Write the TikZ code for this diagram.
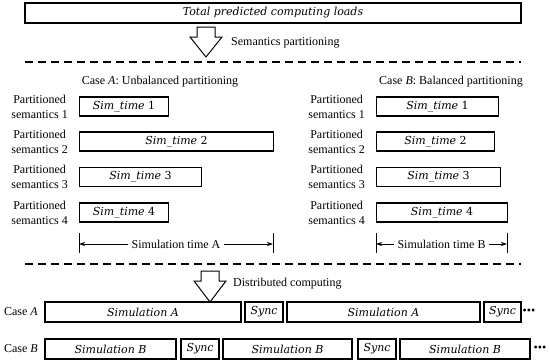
\documentclass[tikz,border=0pt]{standalone}
\usepackage{fontspec}
\setmainfont{Liberation Serif}
\newfontfamily\boxfont{DejaVu Serif}
\usetikzlibrary{positioning,calc,arrows.meta}
\newcommand{\labelsize}{\fontsize{12}{15}\selectfont}
\newcommand{\boxsize}{\fontsize{11}{13}\selectfont}
\tikzset{
    loadbox/.style={draw=black, rectangle, line width=1.1pt, inner sep=0pt,
                    minimum height=20pt, font=\boxfont\boxsize\itshape},
    simbox/.style={draw=black, rectangle, line width=1.1pt, inner sep=0pt,
                   minimum height=19pt, font=\boxfont\boxsize},
    partlabel/.style={align=center, inner sep=0pt, font=\labelsize},
    steplabel/.style={inner sep=0pt, font=\labelsize},
    separator/.style={line width=1.6pt, dash pattern=on 8pt off 5pt},
    blockarrow/.style={draw=black, fill=white, line width=1pt, line join=miter},
    % Arrow styles
    dimline/.style={-{Stealth[length=6pt,width=4pt]}, line width=0.8pt},
    dimtick/.style={line width=0.8pt}
}

\begin{document}
\begin{tikzpicture}[x=1pt, y=-1pt]
    \useasboundingbox (0,0) rectangle (550,362);

    % Total loads and partitioning step
    \node[loadbox, minimum width=496pt] (loads) at (273,13) {Total predicted computing loads};
    \coordinate (partarrow) at (206,27);
    \draw[blockarrow] (partarrow) ++(-9,0) -- ++(18,0) -- ++(0,10) -- ++(7,0)
        -- ++(-16,20) -- ++(-16,-20) -- ++(7,0) -- cycle;
    \node[steplabel, anchor=west] (parttext) at (231,43) {Semantics partitioning};
    \coordinate (sepAl) at (25,62);
    \coordinate (sepAr) at (521,62);
    \draw[separator] (sepAl) -- (sepAr);

    % Case A: unbalanced
    \node[steplabel] (caseA) at (160,82) {Case \textit{A}: Unbalanced partitioning};
    \node[simbox, anchor=west, minimum width=89pt] (a1) at (79,106.5) {\textit{Sim\_time} 1};
    \node[simbox, anchor=west, minimum width=194pt] (a2) at (79,141.5) {\textit{Sim\_time} 2};
    \node[simbox, anchor=west, minimum width=122pt] (a3) at (79,177) {\textit{Sim\_time} 3};
    \node[simbox, anchor=west, minimum width=89pt] (a4) at (79,212.5) {\textit{Sim\_time} 4};
    \node[partlabel, anchor=east] (pa1) at (68,106.5) {Partitioned\\semantics 1};
    \node[partlabel, anchor=east] (pa2) at (68,141.5) {Partitioned\\semantics 2};
    \node[partlabel, anchor=east] (pa3) at (68,177) {Partitioned\\semantics 3};
    \node[partlabel, anchor=east] (pa4) at (68,212.5) {Partitioned\\semantics 4};

    % Case B: balanced
    \node[steplabel] (caseB) at (451,82) {Case \textit{B}: Balanced partitioning};
    \node[simbox, anchor=west, minimum width=122pt] (b1) at (376,106.5) {\textit{Sim\_time} 1};
    \node[simbox, anchor=west, minimum width=118pt] (b2) at (376,141.5) {\textit{Sim\_time} 2};
    \node[simbox, anchor=west, minimum width=124pt] (b3) at (376,177) {\textit{Sim\_time} 3};
    \node[simbox, anchor=west, minimum width=131pt] (b4) at (376,212.5) {\textit{Sim\_time} 4};
    \node[partlabel, anchor=east] (pb1) at (365,106.5) {Partitioned\\semantics 1};
    \node[partlabel, anchor=east] (pb2) at (365,141.5) {Partitioned\\semantics 2};
    \node[partlabel, anchor=east] (pb3) at (365,177) {Partitioned\\semantics 3};
    \node[partlabel, anchor=east] (pb4) at (365,212.5) {Partitioned\\semantics 4};

    % Simulation time spans
    \coordinate (tAl) at (79,244);
    \coordinate (tAr) at (273,244);
    \coordinate (tBl) at (376,244);
    \coordinate (tBr) at (507,244);
    \node[steplabel, fill=white, inner xsep=3pt] (timeA) at (176,244) {Simulation time A};
    \node[steplabel, fill=white, inner xsep=3pt] (timeB) at (441.5,244) {Simulation time B};
    \draw[dimline] (timeA) -- (tAl);
    \draw[dimline] (timeA) -- (tAr);
    \draw[dimline] (timeB) -- (tBl);
    \draw[dimline] (timeB) -- (tBr);
    \draw[dimtick] ($(tAl)+(0,-11)$) -- ($(tAl)+(0,9)$);
    \draw[dimtick] ($(tAr)+(0,-11)$) -- ($(tAr)+(0,9)$);
    \draw[dimtick] ($(tBl)+(0,-11)$) -- ($(tBl)+(0,9)$);
    \draw[dimtick] ($(tBr)+(0,-11)$) -- ($(tBr)+(0,9)$);

    \coordinate (sepBl) at (25,264);
    \coordinate (sepBr) at (521,264);
    \draw[separator] (sepBl) -- (sepBr);
    \node[steplabel, anchor=west] (disttext) at (233,284) {Distributed computing};

    % Distributed runs
    \node[steplabel, anchor=east] (runA) at (38,312) {Case \textit{A}};
    \node[simbox, minimum height=20pt, minimum width=196pt] (simA1) at (143,312) {\textit{Simulation A}};
    \node[simbox, minimum height=20pt, minimum width=38pt] (syncA1) at (264,312) {\textit{Sync}};
    \node[simbox, minimum height=20pt, minimum width=193pt] (simA2) at (383.5,312) {\textit{Simulation A}};
    \node[simbox, minimum height=20pt, minimum width=37pt] (syncA2) at (502.5,312) {\textit{Sync}};
    \node[steplabel] (moreA) at (529,312) {•••};

    \node[steplabel, anchor=east] (runB) at (38,349) {Case \textit{B}};
    \node[simbox, minimum height=20pt, minimum width=131pt] (simB1) at (110.5,349) {\textit{Simulation B}};
    \node[simbox, minimum height=20pt, minimum width=38pt] (syncB1) at (200,349) {\textit{Sync}};
    \node[simbox, minimum height=20pt, minimum width=129pt] (simB2) at (287.5,349) {\textit{Simulation B}};
    \node[simbox, minimum height=20pt, minimum width=38pt] (syncB2) at (377,349) {\textit{Sync}};
    \node[simbox, minimum height=20pt, minimum width=130pt] (simB3) at (465,349) {\textit{Simulation B}};
    \node[steplabel] (moreB) at (540,349) {•••};

    \coordinate (distarrow) at (210,271);
    \draw[blockarrow] (distarrow) ++(-9,0) -- ++(18,0) -- ++(0,10) -- ++(7,0)
        -- ++(-16,21) -- ++(-16,-21) -- ++(7,0) -- cycle;
\end{tikzpicture}
\end{document}
